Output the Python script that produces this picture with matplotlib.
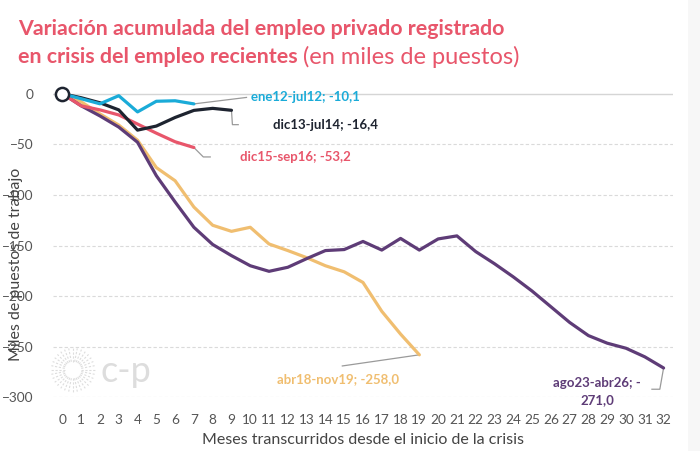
import numpy as np
import matplotlib.pyplot as plt
import matplotlib.patches as mpatches

plt.rcParams['font.family'] = ['Lato', 'DejaVu Sans']

# months since start of each crisis, cumulative change (thousands of jobs)
ene12 = [0, -5, -10, -2, -18, -7.5, -7, -10.1]
dic13 = [0, -4, -9, -16, -36, -32, -23.5, -16.5, -14.5, -16.4]
dic15 = [0, -12, -16, -21, -30, -39, -47.5, -53.2]
abr18 = [0, -8, -20, -31, -46, -73, -86, -112, -130, -136, -132, -148.5, -155,
         -162, -170, -176, -186.5, -215, -237.5, -258.0]
ago23 = [0, -12, -22, -33, -48, -81, -107, -132, -149, -160, -170, -175.5, -171.5,
         -163, -155, -154, -146, -154.5, -143, -154.5, -143.5, -140.5, -156, -168,
         -181, -195, -210.5, -226, -239, -246.5, -251.5, -260, -271.0]

series = [
    ("abr18-nov19; -258,0", abr18, "#F0BE70"),
    ("ago23-abr26; -\n271,0", ago23, "#5E3C77"),
    ("dic15-sep16; -53,2", dic15, "#E8566B"),
    ("dic13-jul14; -16,4", dic13, "#1E2430"),
    ("ene12-jul12; -10,1", ene12, "#1AABD8"),
]

fig = plt.figure(figsize=(7, 4.51), dpi=100)
ax = fig.add_axes([0.0757, 0.119, 0.8857, 0.6845])

# grey strip at the right edge
fig.add_artist(mpatches.Rectangle((688 / 700, 0), 1, 1, transform=fig.transFigure,
                                  facecolor="#F7F7F7", edgecolor="none", zorder=0))

for name, vals, col in series:
    ax.plot(np.arange(len(vals)), vals, color=col, lw=2.3, solid_capstyle="round",
            solid_joinstyle="round", zorder=3, clip_on=False)

ax.plot([0], [0], marker="o", ms=9.5, mfc="white", mec="#1E2430", mew=1.8,
        zorder=5, clip_on=False)

# labels and leader lines
lead = "#9A9A9A"
ax.plot([7, 9.8], [-10.1, -3.7], color=lead, lw=0.9, zorder=2)
ax.text(10.05, -3.3, "ene12-jul12; -10,1", color="#1AABD8", fontsize=9.5,
        fontweight="bold", ha="left", va="center")
ax.plot([9, 9.05, 9.36], [-16.4, -30.6, -30.6], color=lead, lw=0.9, zorder=2)
ax.text(11.2, -31.3, "dic13-jul14; -16,4", color="#1E2430", fontsize=9.5,
        fontweight="bold", ha="left", va="center")
ax.plot([7, 7.5, 7.87], [-53.2, -62.5, -62.5], color=lead, lw=0.9, zorder=2)
ax.text(9.47, -62.5, "dic15-sep16; -53,2", color="#E8566B", fontsize=9.5,
        fontweight="bold", ha="left", va="center")
ax.plot([19, 14.9], [-258, -269], color=lead, lw=0.9, zorder=2)
ax.text(11.4, -282, "abr18-nov19; -258,0", color="#F0BE70", fontsize=9.5,
        fontweight="bold", ha="left", va="center")
ax.plot([32, 31.8, 31.38], [-271, -292, -292], color=lead, lw=0.9, zorder=2,
        clip_on=False)
ax.text(28.46, -294, "ago23-abr26; -\n271,0", color="#5E3C77", fontsize=9.5,
        fontweight="bold", ha="center", va="center", ma="center", linespacing=1.5)

ax.set_xlim(-0.5, 32.5)
ax.set_ylim(-300, 5)
ax.set_xticks(range(33))
ax.set_yticks([0, -50, -100, -150, -200, -250, -300])
ax.tick_params(length=0, labelsize=9.8, labelcolor="#555555")
ax.tick_params(axis="x", pad=12)
ax.tick_params(axis="y", pad=14)
for s in ax.spines.values():
    s.set_visible(False)
for yv in [-50, -100, -150, -200, -250, -300]:
    ax.axhline(yv, color="#DADADA", lw=0.8, ls=(0, (3, 2)), zorder=1)
ax.axhline(0, color="#D5D5D5", lw=1, zorder=1)

ax.set_xlabel("Meses transcurridos desde el inicio de la crisis", fontsize=11.5,
              color="#444444", labelpad=5)
ax.set_ylabel("Miles de puestos de trabajo", fontsize=11.5, color="#444444")
ax.yaxis.set_label_coords(-0.048, 0.43)

# watermark logo
lax = fig.add_axes([35 / 700, (451 - 408) / 451, 76 / 700, 76 / 451])
lax.set_xlim(-1, 1)
lax.set_ylim(-1, 1)
lax.set_aspect("equal")
lax.axis("off")
for a in np.linspace(0, 2 * np.pi, 32, endpoint=False):
    lax.plot([0.22 * np.cos(a), 0.58 * np.cos(a)], [0.22 * np.sin(a), 0.58 * np.sin(a)],
             color="#DDDDDD", lw=0.8, ls=(0, (2, 1.5)))
fig.text(101 / 700, 1 - 372 / 451, "c-p", fontsize=26, color="#DDDDDD",
         ha="left", va="center")

# title
tcol = "#E8566B"
fig.text(18 / 700, 1 - 29 / 451, "Variación acumulada del empleo privado registrado",
         fontsize=15.4, fontweight="bold", color=tcol, ha="left", va="center")
t2 = fig.text(18 / 700, 1 - 57 / 451, "en crisis del empleo recientes", fontsize=15.4,
              fontweight="bold", color=tcol, ha="left", va="center")
r = fig.canvas.get_renderer()
bb = t2.get_window_extent(r)
fig.text((bb.x1 + 5) / 700, 1 - 57 / 451, "(en miles de puestos)", fontsize=17,
         color=tcol, ha="left", va="center")

fig.savefig("out.png", dpi=100)
